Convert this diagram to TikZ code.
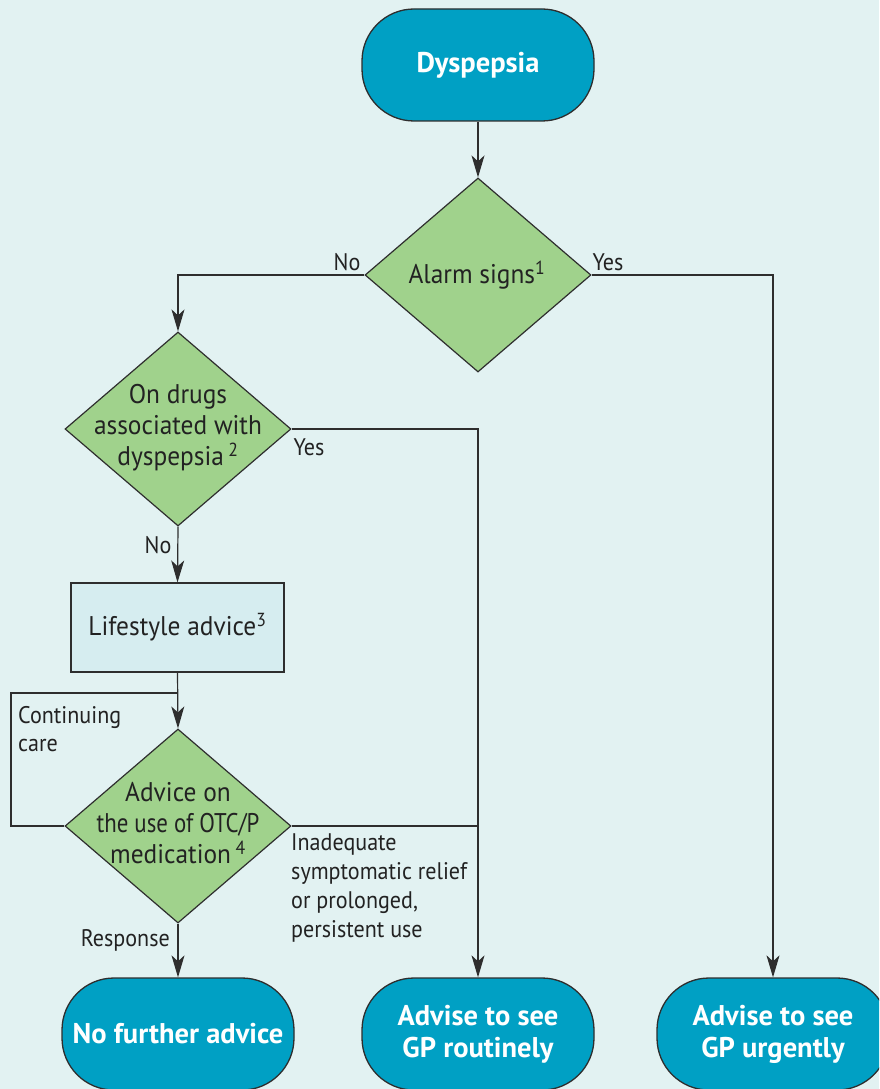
\documentclass[tikz,border=0pt]{standalone}
\usepackage{fontspec}
\setmainfont{PT Sans}
\newfontfamily\dfont[FakeStretch=0.94]{PT Sans}
\newfontfamily\lfont[FakeStretch=0.92]{PT Sans}
\usetikzlibrary{shapes.geometric,arrows.meta}
\definecolor{bgc}{HTML}{E2F2F2}
\definecolor{tealc}{HTML}{00A0C4}
\definecolor{greenc}{HTML}{A0D28C}
\definecolor{boxc}{HTML}{D6EDF0}
\definecolor{linec}{HTML}{2E2E2E}
\definecolor{textc}{HTML}{222222}
\begin{document}
\begin{tikzpicture}[x=1pt,y=-1pt,
  term/.style={draw=linec, line width=1.3pt, fill=tealc, rounded corners=52pt,
    minimum width=232pt, minimum height=112pt, text=white, inner sep=0pt,
    font=\bfseries\fontsize{28.5}{32}\selectfont, align=center},
  dia/.style={diamond, draw=linec, line width=1.2pt, fill=greenc,
    minimum width=226pt, minimum height=194pt, inner sep=0pt},
  dtext/.style={text=textc, inner sep=0pt, align=center,
    font=\dfont\fontsize{27}{31}\selectfont},
  lbox/.style={draw=linec, line width=1.2pt, fill=boxc, minimum width=213pt,
    minimum height=89pt, inner sep=0pt, text=textc, font=\dfont\fontsize{27}{31}\selectfont},
  lab/.style={text=textc, inner sep=0pt, font=\lfont\fontsize{24}{28.7}\selectfont},
  conn/.style={draw=linec, line width=1.2pt},
  arr/.style={conn, -{Stealth[length=22pt,width=13pt,inset=6pt]}}
]
\useasboundingbox (0,0) rectangle (879,1089);
\clip (0,0) rectangle (879,1089);
\fill[bgc] (0,0) rectangle (879,1089);

% nodes
\node[term] (dys) at (478,65) {Dyspepsia};
\node[dia] (alarm) at (478,275) {};
\node[dtext] (alarmt) at (477,275) {Alarm signs\textsuperscript{1}};
\node[dia] (drugs) at (178,429) {};
\node[dtext] (drugst) at (178,428) {On drugs\\associated with\\dyspepsia\,\textsuperscript{2}};
\node[lbox] (life) at (177.5,627.5) {Lifestyle advice\textsuperscript{3}};
\node[dia] (adv) at (178,826) {};
\node[dtext] (advt) at (178,823) {Advice on\\\scalebox{0.9}[1]{the use of OTC/P}\\medication\,\textsuperscript{4}};
\node[term] (nof) at (178,1034) {No further advice};
\node[term] (rout) at (478,1034) {Advise to see\\GP routinely};
\node[term] (urg) at (773,1034) {Advise to see\\GP urgently};

% connectors
\draw[arr] (dys.south) -- (alarm.north);
\draw[arr] (alarm.west) -| (drugs.north);
\draw[arr] (alarm.east) -| (urg.north);
\draw[arr] (drugs.east) -| (rout.north);
\draw[arr] (drugs.south) -- (life.north);
\draw[arr] (life.south) -- (adv.north);
\coordinate (loopc) at (11,693);
\coordinate (loopj) at (178,693);
\draw[conn] (adv.west) -| (loopc) -- (loopj);
\coordinate (relj) at (rout.north |- adv.east);
\draw[conn] (adv.east) -- (relj);
\draw[arr] (adv.south) -- (nof.north);

% labels
\node[lab] (lno1) at (347,262) {No};
\node[lab] (lyes1) at (608,262) {Yes};
\node[lab] (lyes2) at (309,447) {Yes};
\node[lab] (lno2) at (158,545) {No};
\node[lab, anchor=west, align=left] (lcont) at (18,729) {Continuing\\care};
\node[lab, anchor=west, align=left] (linad) at (291,888) {Inadequate\\symptomatic relief\\or prolonged,\\persistent use};
\node[lab, anchor=east] (lresp) at (170,940) {Response};
\end{tikzpicture}
\end{document}
